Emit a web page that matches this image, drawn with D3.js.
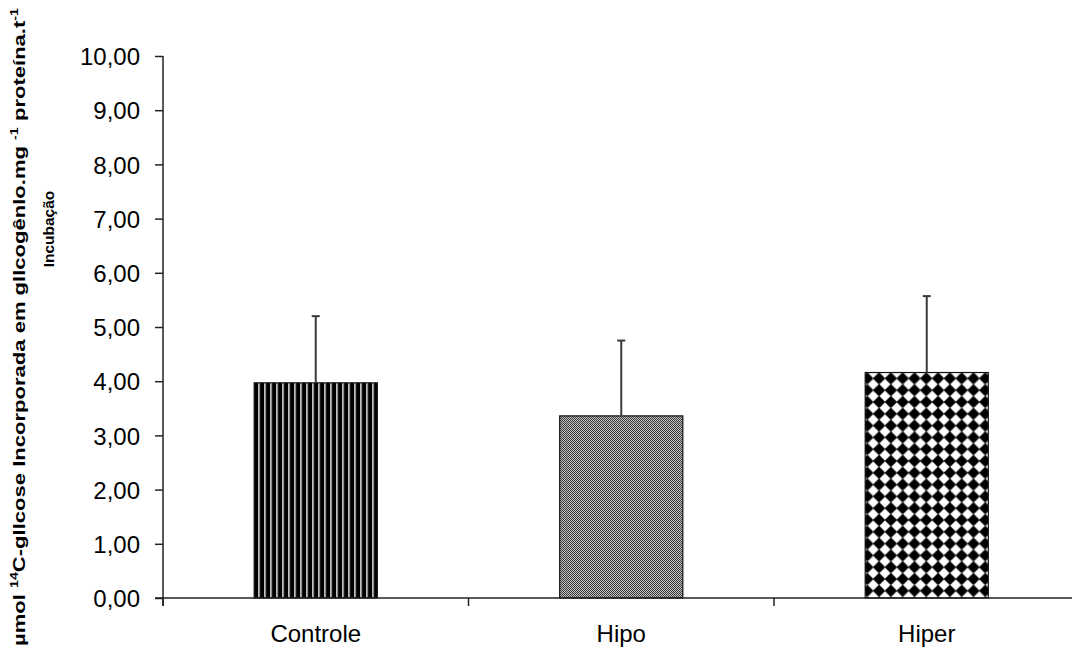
<!DOCTYPE html>
<html>
<head>
<meta charset="utf-8">
<script src="https://cdn.jsdelivr.net/npm/d3@7"></script>
<style>
  html, body { margin: 0; padding: 0; background: #fff; }
  svg { display: block; }
  text { font-family: "Liberation Sans", Arial, sans-serif; fill: #000; }
</style>
</head>
<body>
<svg id="chart" width="1072" height="650"></svg>
<script>
// Groups and measured values (mean and upper standard deviation)
const categories = ["Controle", "Hipo", "Hiper"];
const means = [3.97, 3.36, 4.16];
const sdUpper = [1.23, 1.39, 1.41];
const yTicks = [0, 1, 2, 3, 4, 5, 6, 7, 8, 9, 10];
const fills = ["url(#stripes)", "url(#dither)", "url(#diamonds)"];

const svg = d3.select("#chart");

const x0 = 163, step = 305.5;
const x = d3.scaleBand()
  .domain(categories)
  .range([x0, x0 + step * categories.length])
  .paddingInner(0.597)
  .paddingOuter(0.2985);

const y = d3.scaleLinear().domain([0, 10]).range([598, 56]);

const fmt = v => d3.format(".2f")(v).replace(".", ",");

// Fill patterns for the bars
const defs = svg.append("defs");

const stripes = defs.append("pattern")
  .attr("id", "stripes")
  .attr("patternUnits", "userSpaceOnUse")
  .attr("x", x("Controle"))
  .attr("width", 6).attr("height", 10);
stripes.append("rect").attr("width", 6).attr("height", 10).attr("fill", "#000");
stripes.append("rect").attr("x", 4).attr("width", 1.5).attr("height", 10).attr("fill", "#ececec");

const dither = defs.append("pattern")
  .attr("id", "dither")
  .attr("patternUnits", "userSpaceOnUse")
  .attr("width", 2).attr("height", 2);
dither.append("rect").attr("width", 2).attr("height", 2).attr("fill", "#c4c4c4");
dither.append("rect").attr("width", 1).attr("height", 1).attr("fill", "#3a3a3a");
dither.append("rect").attr("x", 1).attr("y", 1).attr("width", 1).attr("height", 1).attr("fill", "#3a3a3a");

const P = 11.8;
const diamonds = defs.append("pattern")
  .attr("id", "diamonds")
  .attr("patternUnits", "userSpaceOnUse")
  .attr("x", x("Hiper") + 8 - P / 2)
  .attr("y", y(means[2]) - P / 2)
  .attr("width", P).attr("height", P);
diamonds.append("rect").attr("width", P).attr("height", P).attr("fill", "#000");
const r = 5.2, c = P / 2;
diamonds.append("path")
  .attr("d", `M${c},${c - r} L${c + r},${c} L${c},${c + r} L${c - r},${c} Z`)
  .attr("fill", "#fff")
  .attr("stroke", "#fff").attr("stroke-width", 0.8).attr("stroke-linejoin", "round");

// Bars
const data = categories.map((k, i) => ({ k, m: means[i], sd: sdUpper[i], fill: fills[i] }));

svg.append("g").selectAll("rect")
  .data(data)
  .join("rect")
  .attr("x", d => x(d.k))
  .attr("y", d => y(d.m))
  .attr("width", x.bandwidth())
  .attr("height", d => y(0) - y(d.m))
  .attr("fill", d => d.fill)
  .attr("stroke", "#111")
  .attr("stroke-width", 1.2);

// Upper error bars
const eb = svg.append("g").attr("stroke", "#3a3a3a").attr("stroke-width", 2);
eb.selectAll("line.stem")
  .data(data)
  .join("line")
  .attr("class", "stem")
  .attr("x1", d => x(d.k) + x.bandwidth() / 2)
  .attr("x2", d => x(d.k) + x.bandwidth() / 2)
  .attr("y1", d => y(d.m))
  .attr("y2", d => y(d.m + d.sd));
eb.selectAll("line.cap")
  .data(data)
  .join("line")
  .attr("class", "cap")
  .attr("x1", d => x(d.k) + x.bandwidth() / 2 - 4)
  .attr("x2", d => x(d.k) + x.bandwidth() / 2 + 4)
  .attr("y1", d => y(d.m + d.sd))
  .attr("y2", d => y(d.m + d.sd));

// Y axis
const yAxis = svg.append("g")
  .attr("transform", `translate(${x0},0)`)
  .call(d3.axisLeft(y).tickValues(yTicks).tickFormat(fmt).tickSize(8).tickSizeOuter(0).tickPadding(15));
yAxis.select(".domain").remove();
yAxis.selectAll(".tick line").attr("stroke", "#222").attr("stroke-width", 1.5);
yAxis.selectAll(".tick text")
  .attr("font-size", 24)
  .attr("dy", "0.36em")
  .attr("fill", "#000");
svg.append("line")
  .attr("x1", x0).attr("x2", x0)
  .attr("y1", y(10)).attr("y2", y(0) + 8)
  .attr("stroke", "#222").attr("stroke-width", 1.5);

// X axis with ticks on the group boundaries
const xr = x.range();
svg.append("line")
  .attr("x1", x0 - 8).attr("x2", xr[1])
  .attr("y1", y(0)).attr("y2", y(0))
  .attr("stroke", "#222").attr("stroke-width", 1.5);
svg.append("g").selectAll("line")
  .data(d3.range(categories.length + 1))
  .join("line")
  .attr("x1", i => xr[0] + i * x.step())
  .attr("x2", i => xr[0] + i * x.step())
  .attr("y1", y(0)).attr("y2", y(0) + 8)
  .attr("stroke", "#222").attr("stroke-width", 1.5);

const xAxis = svg.append("g")
  .attr("transform", `translate(0,${y(0)})`)
  .call(d3.axisBottom(x).tickSize(0).tickPadding(27));
xAxis.select(".domain").remove();
xAxis.selectAll(".tick text").attr("font-size", 24).attr("fill", "#000").attr("dy", "0.71em");

// Y axis title, two rotated lines
const t1 = svg.append("text")
  .attr("transform", "translate(25,646) rotate(-90)")
  .attr("font-size", 17)
  .attr("font-weight", "bold")
  .attr("textLength", 638)
  .attr("lengthAdjust", "spacingAndGlyphs");
t1.append("tspan").text("µmol ");
t1.append("tspan").attr("font-size", 11).attr("dy", -7).text("14");
t1.append("tspan").attr("dy", 7).text("C-gllcose Incorporada em gllcogênlo.mg ");
t1.append("tspan").attr("font-size", 11).attr("dy", -7).text("-1");
t1.append("tspan").attr("dy", 7).text(" proteína.t");
t1.append("tspan").attr("font-size", 11).attr("dy", -7).text("-1");

svg.append("text")
  .attr("transform", "translate(54,229) rotate(-90)")
  .attr("text-anchor", "middle")
  .attr("font-size", 15.5)
  .attr("font-weight", "bold")
  .text("Incubação");
</script>
</body>
</html>
